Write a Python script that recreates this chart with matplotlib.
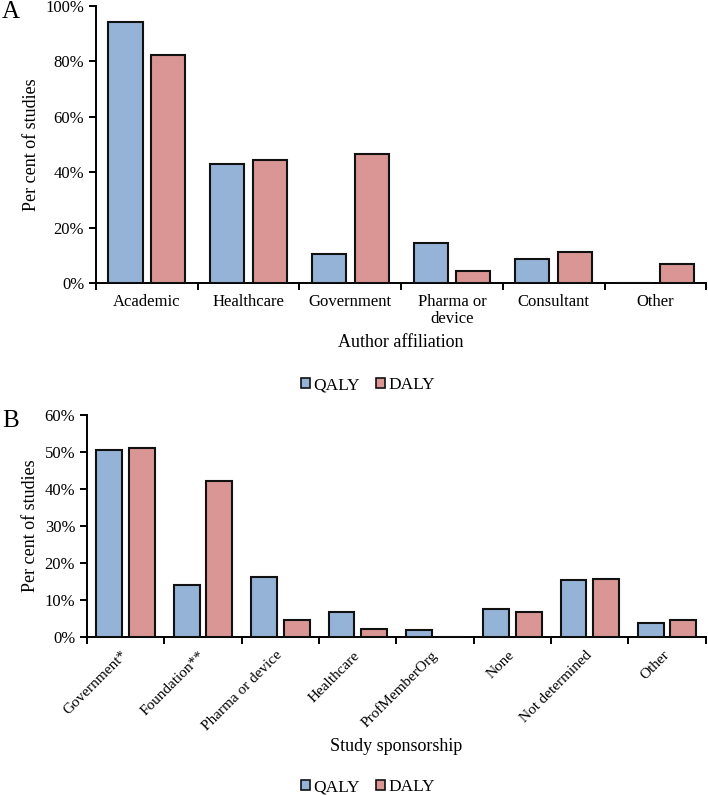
import numpy as np
import matplotlib.pyplot as plt
from matplotlib.patches import Patch
from matplotlib.ticker import FuncFormatter

plt.rcParams['font.family'] = ['Liberation Serif', 'DejaVu Serif']

# Panel A: author affiliation
aff_labels = ['Academic', 'Healthcare', 'Government', 'Pharma or\ndevice', 'Consultant', 'Other']
aff_qaly = [94.3, 42.8, 10.5, 14.3, 8.8, 0.0]
aff_daly = [82.2, 44.4, 46.7, 4.4, 11.1, 6.7]

# Panel B: study sponsorship
spon_labels = ['Government*', 'Foundation**', 'Pharma or device', 'Healthcare',
               'ProfMemberOrg', 'None', 'Not determined', 'Other']
spon_qaly = [50.4, 14.1, 16.1, 6.6, 1.8, 7.5, 15.3, 3.8]
spon_daly = [51.1, 42.2, 4.4, 2.2, 0.0, 6.7, 15.6, 4.4]

QALY_COL = '#95b3d7'
DALY_COL = '#d99694'
W = 0.335
OFF = 0.21

fig = plt.figure(figsize=(7.08, 7.95), dpi=100)
axA = fig.add_axes([0.1356, 0.644, 0.862, 0.3484])
axB = fig.add_axes([0.1229, 0.1991, 0.874, 0.279])


def draw(ax, labels, q, d, ymax, step):
    x = np.arange(len(labels))
    ax.bar(x - OFF, q, W, color=QALY_COL, edgecolor='#111111', linewidth=1.5, zorder=3)
    ax.bar(x + OFF, d, W, color=DALY_COL, edgecolor='#111111', linewidth=1.5, zorder=3)
    ax.set_xlim(-0.5, len(labels) - 0.5)
    ax.set_ylim(0, ymax)
    ax.set_yticks(np.arange(0, ymax + 1, step))
    ax.yaxis.set_major_formatter(FuncFormatter(lambda v, p: f'{v:.0f}%'))
    ax.set_xticks(np.arange(len(labels) + 1) - 0.5)
    ax.set_xticklabels([])
    ax.set_xticks(x, minor=True)
    ax.tick_params(axis='x', which='major', direction='out', length=5, width=1.4)
    ax.tick_params(axis='x', which='minor', length=0)
    ax.tick_params(axis='y', direction='out', length=5, width=1.4, labelsize=12)
    for s in ['top', 'right']:
        ax.spines[s].set_visible(False)
    for s in ['left', 'bottom']:
        ax.spines[s].set_linewidth(1.4)
    ax.set_ylabel('Per cent of studies', fontsize=13)
    return x


draw(axA, aff_labels, aff_qaly, aff_daly, 100, 20)
axA.set_xticklabels(aff_labels, minor=True, fontsize=12, va='top', linespacing=1.1)
axA.tick_params(axis='x', which='minor', pad=8)
axA.set_xlabel('Author affiliation', fontsize=13)
axA.xaxis.set_label_coords(0.5, -0.184)

draw(axB, spon_labels, spon_qaly, spon_daly, 60, 10)
axB.set_xticklabels(spon_labels, minor=True, fontsize=11, rotation=45,
                    ha='right', va='center', rotation_mode='anchor')
axB.tick_params(axis='x', which='minor', pad=12)
axB.set_xlabel('Study sponsorship', fontsize=13)
axB.xaxis.set_label_coords(0.5, -0.457)

handles = [Patch(facecolor=QALY_COL, edgecolor='#111111', linewidth=1.2, label='QALY'),
           Patch(facecolor=DALY_COL, edgecolor='#111111', linewidth=1.2, label='DALY')]
for yy in [1 - 385 / 795, 1 - 787 / 795]:
    fig.legend(handles=handles, loc='center', bbox_to_anchor=(368 / 708, yy), ncol=2,
               frameon=False, fontsize=12.5, handlelength=0.55, handleheight=0.55,
               handletextpad=0.2, columnspacing=0.9)

fig.text(2 / 708, 1 - 18 / 795, 'A', fontsize=18, va='baseline', ha='left')
fig.text(2 / 708, 1 - 427 / 795, 'B', fontsize=18, va='baseline', ha='left')

fig.savefig('out.png', dpi=100)
